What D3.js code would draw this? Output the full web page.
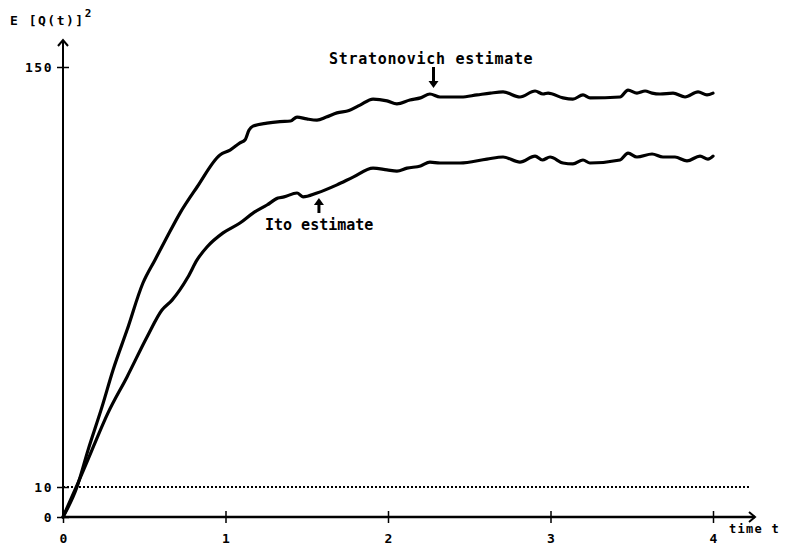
<!DOCTYPE html>
<html>
<head>
<meta charset="utf-8">
<script src="https://cdn.jsdelivr.net/npm/d3@7"></script>
<style>
  html, body { margin: 0; padding: 0; background: #fff; }
  svg { display: block; }
  text { font-family: "DejaVu Sans Mono", "Liberation Mono", monospace; font-weight: bold; fill: #000; }
</style>
</head>
<body>
<svg id="chart" width="787" height="552"></svg>
<script>
// Mean square of Q(t): Stratonovich vs Ito estimates
const stratTime = [0, 0.086, 0.154, 0.24, 0.308, 0.394, 0.492, 0.566, 0.64, 0.72, 0.825, 0.966, 1.028, 1.089, 1.12, 1.145, 1.169, 1.255, 1.335, 1.40, 1.44, 1.50, 1.563, 1.62, 1.686, 1.76, 1.828, 1.908, 1.994, 2.055, 2.135, 2.20, 2.258, 2.32, 2.45, 2.548, 2.63, 2.708, 2.812, 2.905, 2.954, 2.985, 3.077, 3.138, 3.2, 3.243, 3.428, 3.477, 3.532, 3.582, 3.625, 3.674, 3.754, 3.828, 3.908, 3.963, 4.0];
const stratValues = [0, 10, 22.3, 36.7, 49, 62.3, 78, 85.7, 93.3, 101.3, 110, 120.7, 122.3, 124.7, 125.7, 129, 130.3, 131.3, 131.8, 132, 133.3, 132.7, 132.3, 133.3, 134.7, 135.5, 137.3, 139.3, 138.7, 137.7, 139, 139.7, 141, 140, 140, 140.7, 141.3, 141.7, 140, 142, 141, 141.3, 139.7, 139.3, 140.7, 139.7, 140, 142.3, 141.3, 142, 141.3, 141, 141.3, 140, 141.7, 140.7, 141.3];

const itoTime = [0, 0.092, 0.178, 0.277, 0.394, 0.517, 0.609, 0.671, 0.769, 0.825, 0.886, 0.985, 1.089, 1.169, 1.255, 1.323, 1.36, 1.44, 1.477, 1.563, 1.686, 1.785, 1.908, 1.994, 2.055, 2.117, 2.2, 2.258, 2.32, 2.443, 2.609, 2.708, 2.812, 2.905, 2.95, 2.997, 3.077, 3.138, 3.2, 3.243, 3.428, 3.477, 3.532, 3.625, 3.692, 3.766, 3.84, 3.92, 3.969, 4.0];
const itoValues = [0, 11.3, 22.3, 34.7, 46.7, 60, 69, 72.3, 80, 85.7, 90, 94.7, 98, 101.3, 104, 106.3, 106.7, 108, 106.7, 108, 110.7, 113.3, 116.3, 115.7, 115.3, 116.3, 117, 118.3, 118, 118, 119.3, 120, 118.3, 120.3, 119, 120, 118, 117.7, 119, 118, 119, 121.3, 120, 121, 120, 120, 118.7, 120.3, 119.3, 120.3];

const xTicks = [0, 1, 2, 3, 4];
const yTicks = [0, 10, 150];
const referenceLevel = 10;

const svg = d3.select("#chart");
const x = d3.scaleLinear().domain([0, 4]).range([63, 713]);
const y = d3.scaleLinear().domain([0, 150]).range([517, 67]);

// open arrowheads for the axes
svg.append("defs").append("marker")
  .attr("id", "arrow")
  .attr("viewBox", "-8 -6 10 12")
  .attr("markerWidth", 10).attr("markerHeight", 12)
  .attr("markerUnits", "userSpaceOnUse")
  .attr("refX", 0).attr("refY", 0)
  .attr("orient", "auto")
  .append("path")
  .attr("d", "M-6,-5L0,0L-6,5")
  .attr("fill", "none").attr("stroke", "#000").attr("stroke-width", 2);

// dotted reference line at level 10
svg.append("line")
  .attr("x1", x(0)).attr("x2", 751)
  .attr("y1", y(referenceLevel)).attr("y2", y(referenceLevel))
  .attr("stroke", "#000").attr("stroke-width", 2)
  .attr("stroke-dasharray", "2 2");

// axes
const xAxis = svg.append("g")
  .attr("transform", `translate(0,${y(0)})`)
  .call(d3.axisBottom(x).tickValues(xTicks).tickSize(6).tickPadding(11).tickFormat(d3.format("d")));
xAxis.select(".domain").remove();
xAxis.selectAll(".tick line").attr("y1", -6).attr("stroke-width", 1.5);
xAxis.selectAll(".tick text").style("font-size", "13px").style("font-family", "DejaVu Sans Mono").style("font-weight", "bold");

const yAxis = svg.append("g")
  .attr("transform", `translate(${x(0)},0)`)
  .call(d3.axisLeft(y).tickValues(yTicks).tickSize(6).tickPadding(4).tickFormat(d3.format("d")));
yAxis.select(".domain").remove();
yAxis.selectAll(".tick line").attr("x1", 6).attr("stroke-width", 1.5);
yAxis.selectAll(".tick text").style("font-size", "13px").style("font-family", "DejaVu Sans Mono").style("font-weight", "bold").attr("letter-spacing", 1.5);

svg.append("line")
  .attr("x1", x(0)).attr("x2", 755).attr("y1", y(0)).attr("y2", y(0))
  .attr("stroke", "#000").attr("stroke-width", 2.5).attr("marker-end", "url(#arrow)");
svg.append("line")
  .attr("x1", x(0)).attr("x2", x(0)).attr("y1", y(0)).attr("y2", 40)
  .attr("stroke", "#000").attr("stroke-width", 2).attr("marker-end", "url(#arrow)");

// curves
const line = d3.line().curve(d3.curveMonotoneX).x(d => x(d[0])).y(d => y(d[1]));
const series = [d3.zip(stratTime, stratValues), d3.zip(itoTime, itoValues)];
svg.selectAll("path.curve").data(series).enter().append("path")
  .attr("class", "curve")
  .attr("d", line)
  .attr("fill", "none").attr("stroke", "#000")
  .attr("stroke-width", 3.2).attr("stroke-linejoin", "round").attr("stroke-linecap", "round");

// axis titles
const yTitle = svg.append("text").attr("x", 10).attr("y", 25).style("font-size", "13px").attr("letter-spacing", 1.5);
yTitle.append("tspan").text("E [Q(t)]");
yTitle.append("tspan").attr("dy", -8).style("font-size", "11px").text("2");
svg.append("text").attr("x", 729).attr("y", 533).style("font-size", "12px").attr("letter-spacing", 1.3).text("time t");

// annotations with pointer arrows
function pointer(px, y1, y2) {
  const dir = Math.sign(y2 - y1);
  svg.append("line").attr("x1", px).attr("x2", px).attr("y1", y1).attr("y2", y2 - dir * 4)
    .attr("stroke", "#000").attr("stroke-width", 3);
  svg.append("path")
    .attr("d", `M${px - 5},${y2 - dir * 7}L${px + 5},${y2 - dir * 7}L${px},${y2}Z`)
    .attr("fill", "#000");
}
svg.append("text").attr("x", 329).attr("y", 64).style("font-size", "15px").attr("letter-spacing", 0.7).text("Stratonovich estimate");
pointer(x(2.28), 67, 88);
svg.append("text").attr("x", 265).attr("y", 230).style("font-size", "15px").text("Ito estimate");
pointer(x(1.575), 213, 198);
</script>
</body>
</html>
